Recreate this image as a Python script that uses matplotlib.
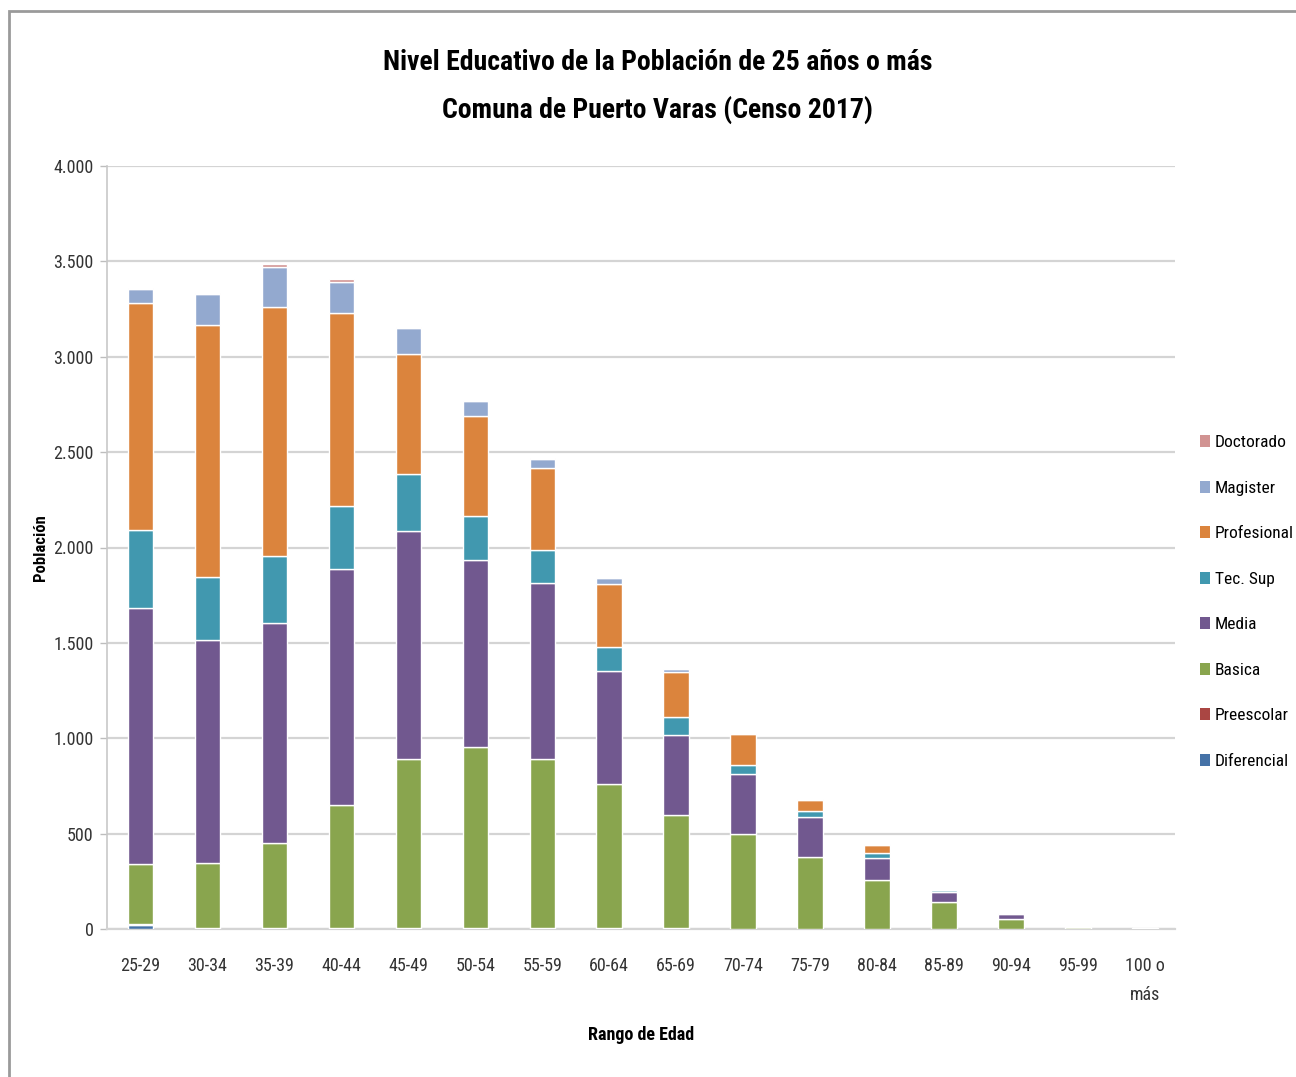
import matplotlib
matplotlib.use("Agg")
import matplotlib.pyplot as plt
from matplotlib.patches import Rectangle, Patch
from matplotlib.ticker import FuncFormatter
from matplotlib import font_manager as fm
import numpy as np

avail = {(f.name, f.stretch) for f in fm.fontManager.ttflist}
names = {f.name for f in fm.fontManager.ttflist}
font_family = ['DejaVu Sans']
font_stretch = 'normal'
for cand in ['Roboto Condensed', 'Liberation Sans Narrow', 'Open Sans Condensed', 'Noto Sans Condensed']:
    if cand in names:
        font_family = [cand, 'DejaVu Sans']
        break
else:
    if any(n == 'DejaVu Sans' and s in ('condensed', 'semi-condensed') for n, s in avail):
        font_family = ['DejaVu Sans']
        font_stretch = 'condensed'
plt.rcParams['font.family'] = font_family
plt.rcParams['font.stretch'] = font_stretch

categories = ["25-29", "30-34", "35-39", "40-44", "45-49", "50-54", "55-59", "60-64",
              "65-69", "70-74", "75-79", "80-84", "85-89", "90-94", "95-99", "100 o\nmás"]

diferencial = [20, 3, 3, 3, 3, 3, 2, 2, 2, 1, 1, 1, 0, 0, 0, 0]
preescolar  = [5, 2, 2, 2, 2, 2, 1, 1, 1, 1, 1, 0, 0, 0, 0, 0]
basica      = [315, 341, 444, 644, 887, 947, 890, 759, 596, 497, 375, 257, 141, 54, 10, 4]
media       = [1342, 1170, 1156, 1236, 1192, 980, 919, 588, 418, 311, 209, 115, 55, 25, 2, 1]
tec_sup     = [409, 331, 350, 334, 299, 231, 177, 127, 94, 52, 32, 27, 6, 5, 0, 0]
profesional = [1190, 1320, 1308, 1009, 630, 527, 429, 331, 235, 160, 59, 41, 0, 0, 0, 0]
magister    = [75, 164, 206, 164, 136, 76, 48, 32, 15, 5, 3, 2, 0, 0, 0, 0]
doctorado   = [5, 5, 15, 14, 5, 3, 2, 1, 1, 0, 0, 0, 0, 0, 0, 0]

series_names = ["Diferencial", "Preescolar", "Basica", "Media", "Tec. Sup",
                "Profesional", "Magister", "Doctorado"]
series_values = [diferencial, preescolar, basica, media, tec_sup,
                 profesional, magister, doctorado]
colors = ["#4572A7", "#AA4643", "#89A54E", "#71588F", "#4198AF",
          "#DB843D", "#93A9CF", "#D19392"]

W, H = 1296, 1077
fig = plt.figure(figsize=(W / 100, H / 100), dpi=100)
fig.patch.set_facecolor("white")

fig.add_artist(Rectangle((9 / W, -0.01), 1.1, 1 - 11 / H + 0.01,
                         transform=fig.transFigure, fill=False,
                         edgecolor="#9a9a9a", linewidth=2))

ax = fig.add_axes([107 / W, 1 - 929 / H, (1175 - 107) / W, (929 - 166) / H])

x = np.arange(len(categories))
bottom = np.zeros(len(categories))
handles = []
for name, vals, col in zip(series_names, series_values, colors):
    v = np.array(vals, dtype=float)
    ax.bar(x, v, bottom=bottom, width=0.38, color=col, edgecolor="white",
           linewidth=1.0, label=name, zorder=3)
    bottom += v
    handles.append(Patch(facecolor=col, edgecolor="none", label=name))

ax.set_ylim(0, 4000)
ax.set_xlim(-0.5, 15.45)
ax.set_yticks(np.arange(0, 4001, 500))
ax.yaxis.set_major_formatter(FuncFormatter(lambda v, p: f"{int(v):,}".replace(",", ".")))
ax.set_xticks(x)
ax.set_xticklabels(categories, fontsize=13, color="#333333", linespacing=1.8)
ax.tick_params(axis="y", labelsize=13, labelcolor="#333333", length=5, width=1,
               color="#bdbdbd", pad=4.5)
ax.tick_params(axis="x", length=0, pad=20)

ax.grid(axis="y", color="#d4d4d4", linewidth=1.6, zorder=0)
ax.set_axisbelow(True)
for s in ["top", "right"]:
    ax.spines[s].set_visible(False)
ax.spines["left"].set_color("#c8c8c8")
ax.spines["left"].set_linewidth(1.2)
ax.spines["bottom"].set_color("#d4d4d4")
ax.spines["bottom"].set_linewidth(1.6)

ax.set_ylabel("Población", fontsize=12, fontweight="bold", labelpad=0)
ax.yaxis.set_label_coords(-(107 - 48) / (1175 - 107), 0.5)
ax.set_xlabel("Rango de Edad", fontsize=13, fontweight="bold")
ax.xaxis.set_label_coords(0.5, -(1026 - 929) / (929 - 166))

fig.text(658 / W, 1 - 62 / H, "Nivel Educativo de la Población de 25 años o más",
         ha="center", va="center", fontsize=20, fontweight="bold")
fig.text(658 / W, 1 - 110 / H, "Comuna de Puerto Varas (Censo 2017)",
         ha="center", va="center", fontsize=20, fontweight="bold")

fig.legend(handles=handles[::-1], labels=series_names[::-1], loc="upper left",
           bbox_to_anchor=(1200 / W, 1 - 435 / H), frameon=False, fontsize=12.5,
           handlelength=0.55, handleheight=0.7, handletextpad=0.3, labelspacing=1.75,
           borderpad=0, borderaxespad=0)

fig.savefig("out.png", dpi=100, facecolor="white")
